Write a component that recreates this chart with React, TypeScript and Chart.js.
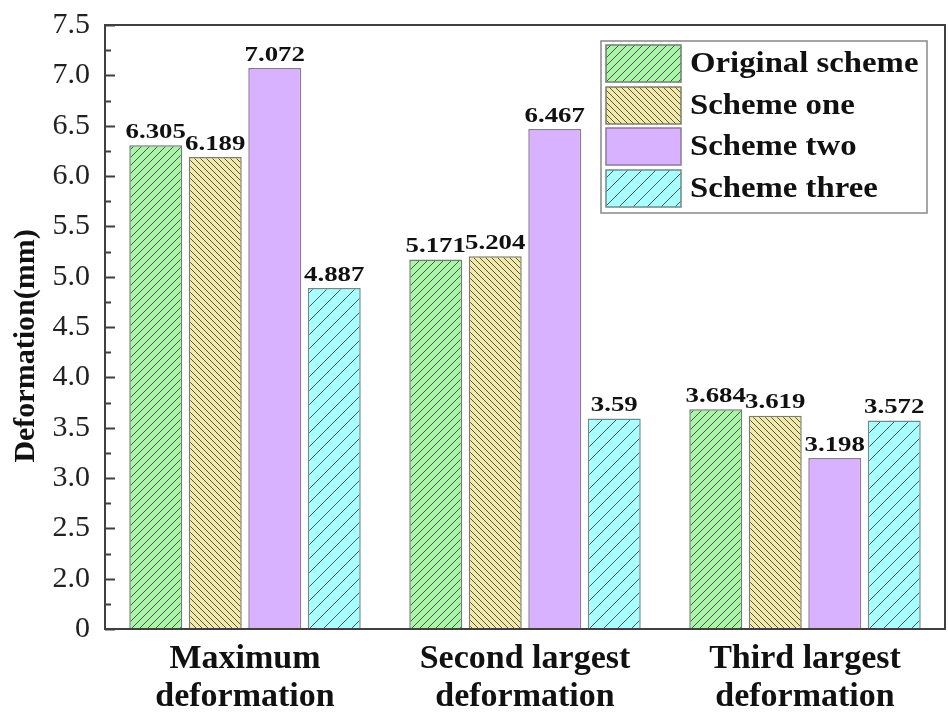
import React, { useEffect, useRef } from "react";
import { Chart, registerables } from "chart.js";

Chart.register(...registerables);

const categories: string[][] = [
  ["Maximum", "deformation"],
  ["Second largest", "deformation"],
  ["Third largest", "deformation"],
];
const seriesNames = ["Original scheme", "Scheme one", "Scheme two", "Scheme three"];
const originalScheme = [6.305, 5.171, 3.684];
const schemeOne = [6.189, 5.204, 3.619];
const schemeTwo = [7.072, 6.467, 3.198];
const schemeThree = [4.887, 3.59, 3.572];
const valueLabels = [
  ["6.305", "5.171", "3.684"],
  ["6.189", "5.204", "3.619"],
  ["7.072", "6.467", "3.198"],
  ["4.887", "3.59", "3.572"],
];
const yTitle = "Deformation(mm)";
const yMin = 1.5;
const yMax = 7.5;
const yStep = 0.5;

const FONT = "'Liberation Serif', 'Times New Roman', serif";

function makePattern(bg: string, spacing: number, dir: "/" | "\\" | "none", line = "rgba(60,60,60,0.85)") {
  const c = document.createElement("canvas");
  c.width = spacing;
  c.height = spacing;
  const ctx = c.getContext("2d")!;
  ctx.fillStyle = bg;
  ctx.fillRect(0, 0, spacing, spacing);
  if (dir !== "none") {
    ctx.strokeStyle = line;
    ctx.lineWidth = 1;
    ctx.beginPath();
    const s = spacing;
    if (dir === "/") {
      ctx.moveTo(-1, s + 1); ctx.lineTo(s + 1, -1);
      ctx.moveTo(-1, 1); ctx.lineTo(1, -1);
      ctx.moveTo(s - 1, s + 1); ctx.lineTo(s + 1, s - 1);
    } else {
      ctx.moveTo(-1, -1); ctx.lineTo(s + 1, s + 1);
      ctx.moveTo(s - 1, -1); ctx.lineTo(s + 1, 1);
      ctx.moveTo(-1, s - 1); ctx.lineTo(1, s + 1);
    }
    ctx.stroke();
  }
  return document.createElement("canvas").getContext("2d")!.createPattern(c, "repeat")!;
}

function stretchedText(ctx: CanvasRenderingContext2D, text: string, x: number, y: number, sx: number) {
  ctx.save();
  ctx.translate(x, y);
  ctx.scale(sx, 1);
  ctx.fillText(text, 0, 0);
  ctx.restore();
}

export default function App() {
  const ref = useRef<HTMLCanvasElement>(null);
  useEffect(() => {
    const fills = [
      makePattern("#a8f5a8", 8, "/"),
      makePattern("#f2eaa8", 6, "\\"),
      makePattern("#d8b2ff", 8, "none"),
      makePattern("#a8ffff", 14, "/"),
    ];
    const borders = ["#6f7f6f", "#7f7c66", "#8a7a99", "#6f8a8a"];
    const seriesData = [originalScheme, schemeOne, schemeTwo, schemeThree];

    const framePlugin = {
      id: "frame",
      afterDraw(chart: any) {
        const { ctx, chartArea: a } = chart;
        const y = chart.scales.y;
        ctx.save();
        ctx.strokeStyle = "#404040";
        ctx.lineWidth = 2;
        ctx.strokeRect(a.left, a.top, a.right - a.left, a.bottom - a.top);
        ctx.beginPath();
        for (let v = yMin; v <= yMax + 1e-9; v += yStep / 2) {
          const py = Math.round(y.getPixelForValue(v)) + 0.5;
          const major = Math.abs((v - yMin) / yStep - Math.round((v - yMin) / yStep)) < 1e-6;
          const len = major ? 10 : 6;
          ctx.moveTo(a.left, py);
          ctx.lineTo(a.left + len, py);
        }
        ctx.stroke();
        ctx.font = `bold 30px ${FONT}`;
        ctx.fillStyle = "#111";
        ctx.textAlign = "center";
        ctx.textBaseline = "middle";
        ctx.translate(26, 346);
        ctx.rotate(-Math.PI / 2);
        ctx.fillText(yTitle, 0, 0);
        ctx.restore();
      },
    };

    const labelPlugin = {
      id: "valueLabels",
      afterDatasetsDraw(chart: any) {
        const { ctx } = chart;
        ctx.save();
        ctx.font = `bold 22px ${FONT}`;
        ctx.fillStyle = "#111";
        ctx.textAlign = "center";
        ctx.textBaseline = "bottom";
        chart.data.datasets.forEach((_: any, di: number) => {
          const meta = chart.getDatasetMeta(di);
          meta.data.forEach((el: any, i: number) => {
            stretchedText(ctx, valueLabels[di][i], el.x, el.y - 2, 1.22);
          });
        });
        ctx.restore();
      },
    };

    const legendPlugin = {
      id: "customLegend",
      afterDraw(chart: any) {
        const { ctx } = chart;
        const bx = 601, by = 41, bw = 326, bh = 172;
        ctx.save();
        ctx.fillStyle = "#fff";
        ctx.fillRect(bx, by, bw, bh);
        ctx.strokeStyle = "#888";
        ctx.lineWidth = 1.5;
        ctx.strokeRect(bx, by, bw, bh);
        const rows = [45, 87, 128, 170];
        ctx.font = `bold 29px ${FONT}`;
        ctx.textBaseline = "middle";
        ctx.textAlign = "left";
        seriesNames.forEach((name, i) => {
          const ry = rows[i];
          ctx.fillStyle = fills[i];
          ctx.fillRect(606, ry, 75, 37);
          ctx.strokeStyle = borders[i];
          ctx.lineWidth = 1.5;
          ctx.strokeRect(606, ry, 75, 37);
          ctx.fillStyle = "#111";
          stretchedText(ctx, name, 690, ry + 20, 1.13);
        });
        ctx.restore();
      },
    };

    const chart = new Chart(ref.current!, {
      type: "bar",
      data: {
        labels: categories,
        datasets: seriesData.map((d, i) => ({
          label: seriesNames[i],
          data: d,
          backgroundColor: fills[i] as any,
          borderColor: borders[i],
          borderWidth: 1.5,
          categoryPercentage: 0.85,
          barPercentage: 0.89,
        })),
      },
      options: {
        responsive: false,
        animation: false,
        devicePixelRatio: 1,
        layout: { padding: { top: 25, right: 3, left: 0, bottom: 0 } },
        plugins: { legend: { display: false }, tooltip: { enabled: false } },
        scales: {
          x: {
            grid: { display: false, drawTicks: false },
            border: { display: false },
            ticks: {
              color: "#111",
              font: { family: FONT, size: 34, weight: "bold", lineHeight: 1.1 },
              padding: 12,
              maxRotation: 0,
              autoSkip: false,
            },
            afterFit(scale: any) {
              scale.height = 95;
              scale.paddingLeft = 0;
              scale.paddingRight = 0;
            },
          },
          y: {
            min: yMin,
            max: yMax,
            grid: { display: false, drawTicks: false },
            border: { display: false },
            ticks: {
              stepSize: yStep,
              color: "#222",
              font: { family: FONT, size: 30 },
              padding: 15,
              callback: (v: any) => (Math.abs(v - yMin) < 1e-9 ? "0" : Number(v).toFixed(1)),
            },
            afterFit(scale: any) {
              scale.width = 105;
              scale.paddingTop = 0;
              scale.paddingBottom = 0;
            },
          },
        },
      },
      plugins: [framePlugin, labelPlugin, legendPlugin],
    });
    return () => chart.destroy();
  }, []);

  return (
    <div style={{ position: "absolute", left: 0, top: 0, width: 948, height: 724, background: "#fff" }}>
      <canvas ref={ref} width={948} height={724} style={{ width: 948, height: 724 }} />
    </div>
  );
}
